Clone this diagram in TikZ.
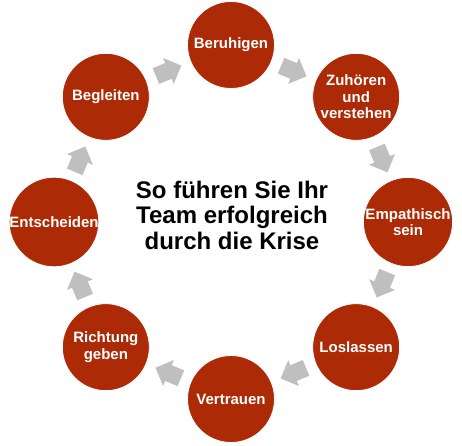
\documentclass[tikz,border=0pt]{standalone}
\usepackage{fontspec}
\setmainfont{Liberation Sans}
\usetikzlibrary{calc}
\definecolor{ringred}{RGB}{172,42,6}
\definecolor{arrowgray}{RGB}{191,191,191}
\begin{document}
\begin{tikzpicture}[x=1pt,y=1pt,
  stage/.style={circle, fill=ringred, draw=white, line width=0.8pt, minimum size=87pt, inner sep=0pt, text=white, font=\bfseries\fontsize{15}{16.5}\selectfont, align=center},
  blockarrow/.pic={\fill[arrowgray] (-13.5,-8.5) -- (0,-8.5) -- (0,-14) -- (14,0) -- (0,14) -- (0,8.5) -- (-13.5,8.5) -- cycle;},
  titletext/.style={font=\bfseries\fontsize{24}{25.5}\selectfont, align=center, inner sep=0pt}
]
\useasboundingbox (0,0) rectangle (462,445);
\coordinate (c) at (231,223);
\node[stage] (n1) at ($(c)+(90:177)$) {Beruhigen};
\node[stage] (n2) at ($(c)+(45:177)$) {Zuhören\\und\\verstehen};
\node[stage] (n3) at ($(c)+(0:177)$) {Empathisch\\sein};
\node[stage] (n4) at ($(c)+(-45:177)$) {Loslassen};
\node[stage] (n5) at ($(c)+(-90:177)$) {Vertrauen};
\node[stage] (n6) at ($(c)+(-135:177)$) {Richtung\\geben};
\node[stage] (n7) at ($(c)+(180:177)$) {Entscheiden};
\node[stage] (n8) at ($(c)+(135:177)$) {Begleiten};
\foreach \a/\b/\r in {n1/n2/-22.5, n2/n3/-67.5, n3/n4/-112.5, n4/n5/-157.5, n5/n6/157.5, n6/n7/112.5, n7/n8/67.5, n8/n1/22.5}
  \pic[rotate=\r] at ($(\a)!0.5!(\b)$) {blockarrow};
\node[titletext] (title) at (232,230) {So führen Sie Ihr\\Team erfolgreich\\durch die Krise};
\end{tikzpicture}
\end{document}
